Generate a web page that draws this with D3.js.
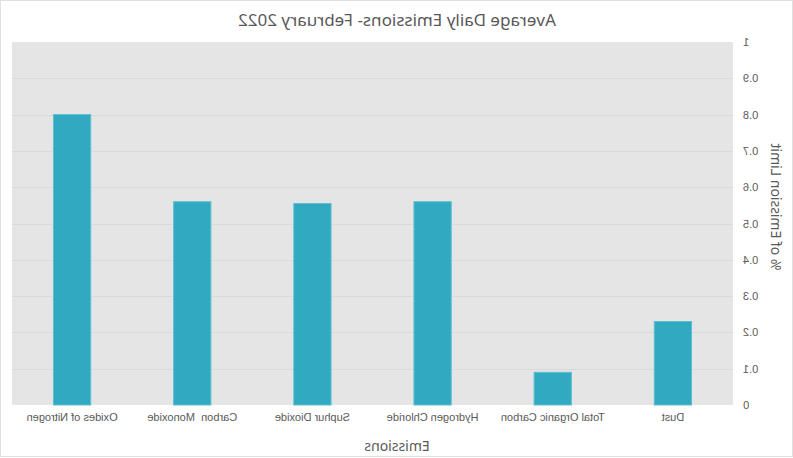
<!doctype html>
<html>
<head>
<meta charset="utf-8">
<style>
body { margin: 0; background: #fff; }
#chart svg {
    display: block;
    /* reference is drawn mirrored left-to-right, text included */
    transform: scaleX(-1);
    font-family: "Noto Sans", "Open Sans", sans-serif;
}
.grid line { stroke: #d9d9d9; stroke-width: 1; }
.axis text { fill: #595959; font-size: 11px; }
.axis path, .axis line { display: none; }
.bar { fill: #31a9c1; stroke: #5cbfd2; stroke-width: 1; }
</style>
<script src="https://cdn.jsdelivr.net/npm/d3@7"></script>
</head>
<body>
<div id="chart"></div>
<script>
var categories = ['Dust', 'Total Organic Carbon', 'Hydrogen Chloride', 'Suphur Dioxide', 'Carbon  Monoxide', 'Oxides of Nitrogen'];
var values = [0.23, 0.09, 0.56, 0.555, 0.56, 0.80];
var yTicks = [0, 0.1, 0.2, 0.3, 0.4, 0.5, 0.6, 0.7, 0.8, 0.9, 1];

var width = 793, height = 458;
var margin = {top: 42, right: 12, bottom: 53, left: 60};

var svg = d3.select('#chart').append('svg')
    .attr('width', width)
    .attr('height', height);

// outer frame
svg.append('rect')
    .attr('x', 0.5).attr('y', 0.5)
    .attr('width', width - 1).attr('height', height - 2)
    .attr('fill', '#fff')
    .attr('stroke', '#e0e0e0');

var x = d3.scaleBand()
    .domain(categories)
    .range([margin.left, width - margin.right])
    .paddingInner(0.69)
    .paddingOuter(0.345);

var y = d3.scaleLinear()
    .domain([0, 1])
    .range([height - margin.bottom, margin.top]);

// plot background
svg.append('rect')
    .attr('x', margin.left)
    .attr('y', margin.top)
    .attr('width', width - margin.left - margin.right)
    .attr('height', height - margin.top - margin.bottom)
    .attr('fill', '#e5e5e5');

svg.append('g')
    .attr('class', 'grid')
    .selectAll('line')
    .data(yTicks.slice(1, -1))
    .enter().append('line')
    .attr('x1', margin.left)
    .attr('x2', width - margin.right)
    .attr('y1', function (d) { return Math.round(y(d)) + 0.5; })
    .attr('y2', function (d) { return Math.round(y(d)) + 0.5; });

svg.append('g')
    .selectAll('rect.bar')
    .data(values)
    .enter().append('rect')
    .attr('class', 'bar')
    .attr('x', function (d, i) { return x(categories[i]); })
    .attr('width', x.bandwidth())
    .attr('y', function (d) { return y(d); })
    .attr('height', function (d) { return y(0) - y(d); });

// y axis
svg.append('g')
    .attr('class', 'axis')
    .attr('transform', 'translate(' + (margin.left - 10) + ',0)')
    .call(d3.axisLeft(y).tickValues(yTicks).tickSize(0).tickPadding(0)
        .tickFormat(function (d) { return d === 0 || d === 1 ? d : d3.format('.1f')(d); }));

// x axis
var xAxis = svg.append('g')
    .attr('class', 'axis')
    .attr('transform', 'translate(0,' + (height - margin.bottom) + ')')
    .call(d3.axisBottom(x).tickSize(0).tickPadding(8));
xAxis.selectAll('text').style('white-space', 'pre');

svg.append('text')
    .attr('x', width - 397)
    .attr('y', 26)
    .attr('text-anchor', 'middle')
    .attr('fill', '#595959')
    .style('font-size', '17px')
    .text('Average Daily Emissions- February 2022');

svg.append('text')
    .attr('x', width - 397)
    .attr('y', 451)
    .attr('text-anchor', 'middle')
    .attr('fill', '#595959')
    .style('font-size', '14px')
    .text('Emissions');

svg.append('text')
    .attr('transform', 'translate(17,207) rotate(-90)')
    .attr('text-anchor', 'middle')
    .attr('dy', '0.35em')
    .attr('fill', '#595959')
    .style('font-size', '14px')
    .text('% of Emission Limit');
</script>
</body>
</html>
